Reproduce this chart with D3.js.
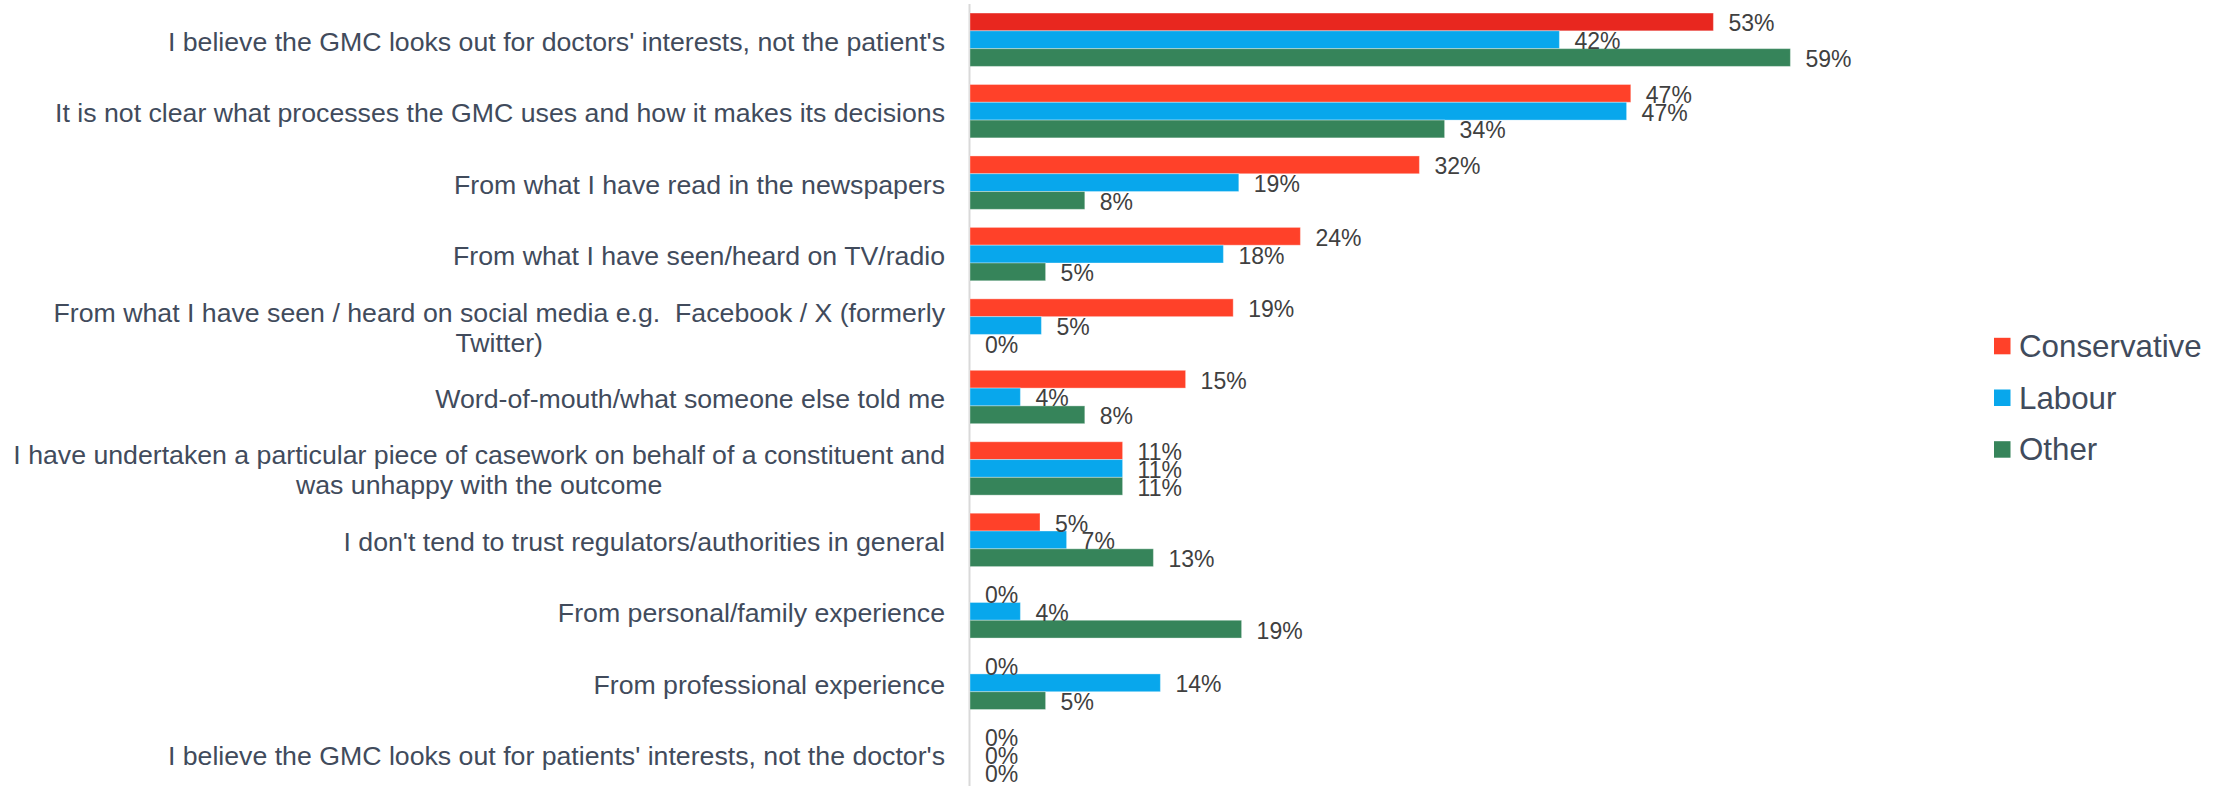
<!DOCTYPE html>
<html>
<head>
<meta charset="utf-8">
<script src="https://cdn.jsdelivr.net/npm/d3@7"></script>
<style>
  body { margin: 0; background: #fff; }
  svg { display: block; font-family: "Liberation Sans", Arial, sans-serif; }
  .cat { white-space: pre; }
</style>
</head>
<body>
<script>
var width = 2234,
    height = 786;

// categories, top to bottom (a "\n" marks the wrap used in the original)
var categories = [
    "I believe the GMC looks out for doctors' interests, not the patient's",
    "It is not clear what processes the GMC uses and how it makes its decisions",
    "From what I have read in the newspapers",
    "From what I have seen/heard on TV/radio",
    "From what I have seen / heard on social media e.g.  Facebook / X (formerly\nTwitter)",
    "Word-of-mouth/what someone else told me",
    "I have undertaken a particular piece of casework on behalf of a constituent and\nwas unhappy with the outcome",
    "I don't tend to trust regulators/authorities in general",
    "From personal/family experience",
    "From professional experience",
    "I believe the GMC looks out for patients' interests, not the doctor's"
]

var seriesNames = ["Conservative", "Labour", "Other"]

// share of respondents, %
var conservative = [53.1, 47.2, 32.1, 23.6, 18.8, 15.4, 10.9, 5.0, 0, 0, 0]
var labour       = [42.1, 46.9, 19.2, 18.1, 5.1, 3.6, 10.9, 6.9, 3.6, 13.6, 0]
var other        = [58.6, 33.9, 8.2, 5.4, 0, 8.2, 10.9, 13.1, 19.4, 5.4, 0]

var colors = {Conservative: "#FF4129", Labour: "#08A7EC", Other: "#36845A"}
var firstBarColor = "#E8271F"   // first Conservative bar was recoloured in the original
var textColor = "#414B5C",
    labelColor = "#404040";

var seriesValues = [conservative, labour, other]

var rows = categories.map(function(c, i) {
    return {
        category: c,
        values: seriesNames.map(function(s, j) {
            return {series: s, value: seriesValues[j][i] / 100, index: i}
        })
    }
})

var svg = d3.select("body").append("svg")
    .attr("width", width)
    .attr("height", height);

var xScale = d3.scaleLinear()
    .domain([0, 0.7])
    .range([970, 1950]);

var yScale = d3.scaleBand()
    .domain(categories)
    .range([4, 790])
    .paddingInner(0.253)
    .paddingOuter(0.1265);

var ySub = d3.scaleBand()
    .domain(seriesNames)
    .range([0, yScale.bandwidth()]);

// vertical axis line
svg.append("line")
    .attr("x1", xScale(0) - 0.5)
    .attr("x2", xScale(0) - 0.5)
    .attr("y1", 4)
    .attr("y2", height)
    .attr("stroke", "#D9D9D9")
    .attr("stroke-width", 2);

var groups = svg.selectAll(".group")
    .data(rows)
    .enter().append("g")
    .attr("class", "group")
    .attr("transform", function(d) { return "translate(0," + yScale(d.category) + ")" });

groups.selectAll("rect")
    .data(function(d) { return d.values })
    .enter().append("rect")
    .attr("x", xScale(0))
    .attr("y", function(d) { return ySub(d.series) })
    .attr("width", function(d) { return xScale(d.value) - xScale(0) })
    .attr("height", ySub.bandwidth())
    .attr("fill", function(d) {
        if (d.series == "Conservative" && d.index == 0) return firstBarColor
        return colors[d.series]
    })
    .attr("stroke", function(d) { return d.value > 0 ? "rgba(255,255,255,0.35)" : "none" })
    .attr("stroke-width", 1);

groups.selectAll(".val")
    .data(function(d) { return d.values })
    .enter().append("text")
    .attr("class", "val")
    .attr("x", function(d) { return xScale(d.value) + 15 })
    .attr("y", function(d) { return ySub(d.series) + ySub.bandwidth() / 2 + 9.5 })
    .attr("fill", labelColor)
    .style("font-size", "23px")
    .text(function(d) { return d3.format(".0%")(d.value) });

// category labels, right aligned; wrapped lines are centred on each other
var labelRight = 945,
    lineHeight = 30;

groups.each(function(d) {
    var g = d3.select(this)
    var lines = d.category.split("\n")
    var cy = yScale.bandwidth() / 2
    var t = g.append("text")
        .attr("class", "cat")
        .attr("fill", textColor)
        .style("font-size", "26.7px")
    var spans = lines.map(function(line, k) {
        return t.append("tspan")
            .attr("y", cy + (k - (lines.length - 1) / 2) * lineHeight + 11)
            .text(line)
    })
    if (lines.length == 1) {
        t.attr("text-anchor", "end")
        spans[0].attr("x", labelRight)
    } else {
        var maxW = d3.max(spans, function(s) { return s.node().getComputedTextLength() })
        t.attr("text-anchor", "middle")
        spans.forEach(function(s) { s.attr("x", labelRight - maxW / 2) })
    }
})

// legend
var legend = svg.append("g")
    .attr("transform", "translate(1994,346)");

seriesNames.forEach(function(s, i) {
    var row = legend.append("g")
        .attr("transform", "translate(0," + (i * 51.7) + ")")
    row.append("rect")
        .attr("x", 0)
        .attr("y", -8.2)
        .attr("width", 16.5)
        .attr("height", 16.5)
        .attr("fill", colors[s])
    row.append("text")
        .attr("x", 25)
        .attr("y", 11)
        .attr("fill", textColor)
        .style("font-size", "31.3px")
        .text(s)
})
</script>
</body>
</html>
